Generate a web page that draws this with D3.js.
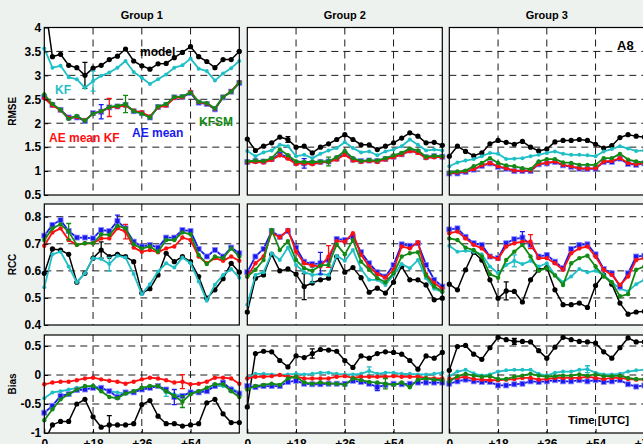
<!DOCTYPE html>
<html>
<head>
<meta charset="utf-8">
<script src="https://cdn.jsdelivr.net/npm/d3@7"></script>
<style>
  body { margin: 0; background: #eef2ef; }
  svg { display: block; font-family: "Liberation Sans", Arial, sans-serif; font-weight: bold; }
</style>
</head>
<body>
<div id="chart"></div>
<script>
// lead time [h]
const hours = [0, 3, 6, 9, 12, 15, 18, 21, 24, 27, 30, 33, 36, 39, 42, 45, 48, 51, 54, 57, 60, 63, 66, 69, 72];
const groups = ["Group 1", "Group 2", "Group 3"];
const metrics = ["RMSE", "RCC", "Bias"];
const seriesNames = ["model", "KF", "AEmean", "AEmeanKF", "KFSM"];

// ---- RMSE (one row per group)
const rmseModel = [
  [4.6, 3.39, 3.44, 3.21, 3.16, 3.0, 3.15, 3.21, 3.33, 3.4, 3.55, 3.3, 3.2, 3.13, 3.24, 3.25, 3.37, 3.48, 3.6, 3.39, 3.29, 3.16, 3.33, 3.33, 3.5],
  [1.67, 1.43, 1.52, 1.59, 1.71, 1.66, 1.5, 1.52, 1.38, 1.5, 1.57, 1.66, 1.76, 1.66, 1.55, 1.55, 1.45, 1.52, 1.59, 1.69, 1.8, 1.73, 1.59, 1.6, 1.54],
  [1.31, 1.52, 1.41, 1.32, 1.38, 1.57, 1.64, 1.6, 1.56, 1.62, 1.5, 1.42, 1.46, 1.61, 1.64, 1.64, 1.66, 1.64, 1.56, 1.48, 1.53, 1.7, 1.76, 1.73, 1.71]
];
const rmseKF = [
  [3.56, 3.16, 3.2, 2.96, 2.92, 2.74, 2.88, 2.99, 3.06, 3.16, 3.3, 3.07, 2.95, 2.82, 2.92, 3.02, 3.16, 3.21, 3.35, 3.14, 3.09, 2.89, 3.04, 3.15, 3.3],
  [1.42, 1.31, 1.39, 1.43, 1.55, 1.52, 1.31, 1.34, 1.27, 1.36, 1.43, 1.48, 1.6, 1.48, 1.39, 1.41, 1.33, 1.41, 1.45, 1.52, 1.66, 1.55, 1.43, 1.45, 1.43],
  [1.1, 1.18, 1.22, 1.25, 1.31, 1.38, 1.36, 1.25, 1.26, 1.27, 1.31, 1.34, 1.38, 1.41, 1.36, 1.34, 1.34, 1.33, 1.31, 1.41, 1.46, 1.52, 1.47, 1.42, 1.43]
];
const rmseAEmean = [
  [2.55, 2.38, 2.28, 2.12, 2.12, 2.05, 2.21, 2.24, 2.33, 2.35, 2.38, 2.25, 2.21, 2.12, 2.34, 2.38, 2.54, 2.55, 2.63, 2.43, 2.4, 2.29, 2.54, 2.66, 2.84],
  [1.19, 1.21, 1.2, 1.25, 1.35, 1.29, 1.17, 1.16, 1.17, 1.19, 1.2, 1.26, 1.36, 1.24, 1.21, 1.22, 1.21, 1.25, 1.3, 1.35, 1.43, 1.4, 1.29, 1.31, 1.3],
  [0.95, 0.95, 0.98, 1.03, 1.11, 1.16, 1.09, 1.05, 1.0, 1.0, 1.0, 1.14, 1.16, 1.19, 1.12, 1.09, 1.05, 1.04, 1.05, 1.19, 1.19, 1.26, 1.15, 1.13, 1.16]
];
const rmseAEmeanKF = [
  [2.52, 2.37, 2.27, 2.11, 2.13, 2.06, 2.2, 2.25, 2.33, 2.34, 2.37, 2.26, 2.23, 2.14, 2.33, 2.37, 2.53, 2.54, 2.66, 2.44, 2.41, 2.3, 2.55, 2.67, 2.86],
  [1.18, 1.19, 1.18, 1.23, 1.33, 1.26, 1.15, 1.16, 1.14, 1.18, 1.19, 1.24, 1.34, 1.22, 1.19, 1.21, 1.19, 1.24, 1.29, 1.34, 1.42, 1.38, 1.27, 1.29, 1.29],
  [0.96, 0.97, 0.99, 1.04, 1.12, 1.17, 1.1, 1.06, 1.01, 1.01, 1.01, 1.15, 1.17, 1.2, 1.13, 1.1, 1.06, 1.05, 1.06, 1.2, 1.21, 1.27, 1.17, 1.14, 1.17]
];
const rmseKFSM = [
  [2.6, 2.4, 2.28, 2.09, 2.15, 2.05, 2.2, 2.25, 2.34, 2.36, 2.4, 2.25, 2.2, 2.12, 2.35, 2.4, 2.55, 2.56, 2.64, 2.45, 2.42, 2.31, 2.55, 2.66, 2.85],
  [1.2, 1.22, 1.21, 1.27, 1.45, 1.33, 1.2, 1.19, 1.19, 1.2, 1.2, 1.29, 1.42, 1.27, 1.21, 1.23, 1.22, 1.27, 1.33, 1.38, 1.47, 1.43, 1.3, 1.32, 1.31],
  [0.97, 0.99, 1.01, 1.1, 1.17, 1.27, 1.17, 1.12, 1.1, 1.06, 1.04, 1.2, 1.25, 1.25, 1.18, 1.17, 1.13, 1.13, 1.13, 1.27, 1.27, 1.36, 1.24, 1.2, 1.18]
];

// ---- RCC
const rccModel = [
  [0.591, 0.681, 0.677, 0.661, 0.558, 0.591, 0.647, 0.677, 0.653, 0.661, 0.653, 0.634, 0.518, 0.534, 0.585, 0.665, 0.634, 0.653, 0.634, 0.579, 0.499, 0.53, 0.571, 0.628, 0.595],
  [0.448, 0.573, 0.585, 0.661, 0.6, 0.607, 0.588, 0.542, 0.555, 0.567, 0.573, 0.653, 0.595, 0.612, 0.575, 0.521, 0.536, 0.518, 0.558, 0.616, 0.567, 0.567, 0.548, 0.493, 0.499],
  [0.551, 0.53, 0.604, 0.669, 0.64, 0.567, 0.499, 0.526, 0.524, 0.485, 0.567, 0.604, 0.612, 0.53, 0.475, 0.475, 0.481, 0.465, 0.546, 0.585, 0.551, 0.481, 0.44, 0.448, 0.45]
];
const rccKF = [
  [0.539, 0.661, 0.671, 0.616, 0.558, 0.591, 0.647, 0.644, 0.625, 0.656, 0.649, 0.588, 0.514, 0.551, 0.598, 0.628, 0.612, 0.649, 0.628, 0.561, 0.49, 0.549, 0.585, 0.607, 0.575],
  [0.475, 0.585, 0.595, 0.665, 0.64, 0.686, 0.622, 0.595, 0.585, 0.588, 0.585, 0.656, 0.637, 0.677, 0.607, 0.567, 0.567, 0.548, 0.585, 0.625, 0.61, 0.64, 0.573, 0.534, 0.521],
  [0.693, 0.671, 0.674, 0.671, 0.661, 0.616, 0.591, 0.622, 0.637, 0.625, 0.637, 0.616, 0.628, 0.585, 0.558, 0.579, 0.607, 0.595, 0.6, 0.585, 0.558, 0.534, 0.524, 0.551, 0.567]
];
const rccAEmean = [
  [0.73, 0.77, 0.788, 0.747, 0.723, 0.723, 0.72, 0.751, 0.747, 0.784, 0.757, 0.708, 0.69, 0.696, 0.686, 0.723, 0.723, 0.751, 0.747, 0.681, 0.653, 0.677, 0.653, 0.686, 0.665],
  [0.595, 0.653, 0.681, 0.747, 0.726, 0.747, 0.686, 0.634, 0.625, 0.628, 0.64, 0.718, 0.714, 0.726, 0.669, 0.628, 0.595, 0.579, 0.622, 0.698, 0.693, 0.702, 0.622, 0.567, 0.542],
  [0.753, 0.757, 0.726, 0.702, 0.696, 0.653, 0.647, 0.702, 0.717, 0.723, 0.696, 0.653, 0.659, 0.634, 0.61, 0.681, 0.696, 0.698, 0.661, 0.607, 0.591, 0.542, 0.591, 0.653, 0.656]
];
const rccAEmeanKF = [
  [0.693, 0.742, 0.757, 0.714, 0.696, 0.702, 0.702, 0.72, 0.72, 0.757, 0.745, 0.686, 0.671, 0.677, 0.669, 0.683, 0.69, 0.723, 0.714, 0.653, 0.628, 0.647, 0.637, 0.653, 0.637],
  [0.579, 0.628, 0.653, 0.742, 0.723, 0.751, 0.671, 0.628, 0.62, 0.616, 0.653, 0.71, 0.708, 0.739, 0.659, 0.616, 0.588, 0.575, 0.604, 0.69, 0.683, 0.706, 0.588, 0.555, 0.534],
  [0.739, 0.745, 0.72, 0.696, 0.683, 0.653, 0.644, 0.69, 0.702, 0.708, 0.708, 0.647, 0.647, 0.628, 0.604, 0.665, 0.683, 0.69, 0.653, 0.604, 0.585, 0.548, 0.579, 0.64, 0.647]
];
const rccKFSM = [
  [0.714, 0.757, 0.772, 0.745, 0.696, 0.702, 0.702, 0.735, 0.733, 0.767, 0.757, 0.698, 0.683, 0.69, 0.671, 0.714, 0.714, 0.742, 0.735, 0.659, 0.625, 0.653, 0.647, 0.683, 0.653],
  [0.579, 0.604, 0.64, 0.751, 0.677, 0.71, 0.64, 0.61, 0.6, 0.62, 0.622, 0.698, 0.661, 0.714, 0.634, 0.604, 0.573, 0.558, 0.591, 0.653, 0.665, 0.669, 0.583, 0.542, 0.524],
  [0.72, 0.714, 0.686, 0.677, 0.653, 0.588, 0.575, 0.64, 0.671, 0.696, 0.653, 0.6, 0.61, 0.583, 0.548, 0.628, 0.647, 0.656, 0.616, 0.579, 0.558, 0.506, 0.514, 0.604, 0.616]
];

// ---- Bias
const biasModel = [
  [-1.15, -0.86, -0.8, -0.8, -0.5, -0.42, -0.72, -0.9, -0.86, -0.86, -0.86, -0.84, -0.51, -0.44, -0.71, -0.84, -0.84, -0.88, -0.86, -0.84, -0.48, -0.42, -0.67, -0.82, -0.82],
  [-0.55, 0.37, 0.41, 0.4, 0.25, 0.14, 0.33, 0.3, 0.37, 0.44, 0.43, 0.41, 0.25, 0.13, 0.33, 0.29, 0.37, 0.4, 0.39, 0.36, 0.25, 0.1, 0.33, 0.29, 0.39],
  [0.08, 0.49, 0.51, 0.36, 0.27, 0.47, 0.65, 0.61, 0.58, 0.58, 0.57, 0.42, 0.29, 0.48, 0.65, 0.61, 0.58, 0.57, 0.55, 0.4, 0.29, 0.47, 0.64, 0.57, 0.57]
];
const biasKF = [
  [-0.4, -0.3, -0.28, -0.25, -0.22, -0.21, -0.19, -0.23, -0.28, -0.3, -0.32, -0.29, -0.25, -0.22, -0.19, -0.3, -0.33, -0.36, -0.3, -0.28, -0.25, -0.19, -0.19, -0.23, -0.3],
  [-0.05, 0.02, 0.02, 0.01, 0.0, 0.01, 0.02, 0.01, 0.02, 0.04, 0.04, 0.02, 0.01, 0.01, 0.02, 0.07, 0.02, 0.04, 0.04, 0.02, 0.02, 0.01, 0.01, 0.02, 0.04],
  [-0.02, 0.06, 0.09, 0.03, -0.01, 0.01, 0.06, 0.08, 0.09, 0.09, 0.09, 0.02, -0.01, 0.04, 0.06, 0.06, 0.09, 0.1, 0.04, 0.01, 0.01, 0.02, 0.06, 0.08, 0.09]
];
const biasAEmean = [
  [-0.65, -0.53, -0.36, -0.33, -0.26, -0.25, -0.22, -0.22, -0.28, -0.38, -0.3, -0.3, -0.25, -0.22, -0.19, -0.25, -0.38, -0.36, -0.3, -0.3, -0.28, -0.19, -0.13, -0.25, -0.32],
  [-0.19, -0.21, -0.19, -0.19, -0.19, -0.12, -0.1, -0.15, -0.16, -0.16, -0.15, -0.15, -0.15, -0.1, -0.12, -0.15, -0.21, -0.17, -0.15, -0.16, -0.15, -0.13, -0.13, -0.13, -0.13],
  [-0.15, -0.11, -0.08, -0.11, -0.12, -0.12, -0.18, -0.18, -0.16, -0.15, -0.11, -0.12, -0.11, -0.09, -0.11, -0.11, -0.09, -0.11, -0.09, -0.12, -0.11, -0.09, -0.16, -0.2, -0.18]
];
const biasAEmeanKF = [
  [-0.16, -0.13, -0.115, -0.115, -0.09, -0.06, -0.046, -0.075, -0.1, -0.115, -0.15, -0.115, -0.075, -0.046, -0.06, -0.09, -0.13, -0.115, -0.16, -0.15, -0.115, -0.046, -0.046, -0.06, -0.15],
  [-0.06, -0.03, -0.03, -0.02, 0.0, -0.03, -0.03, -0.06, -0.06, -0.06, -0.06, -0.03, -0.02, -0.05, -0.03, -0.03, -0.03, -0.03, -0.02, -0.03, -0.03, -0.03, -0.05, -0.06, -0.06],
  [-0.07, -0.05, -0.03, -0.07, -0.08, -0.09, -0.09, -0.08, -0.07, -0.05, -0.05, -0.08, -0.07, -0.05, -0.05, -0.05, -0.05, -0.03, -0.05, -0.07, -0.05, -0.05, -0.07, -0.08, -0.08]
];
const biasKFSM = [
  [-0.78, -0.59, -0.42, -0.33, -0.25, -0.19, -0.19, -0.28, -0.38, -0.4, -0.32, -0.28, -0.22, -0.19, -0.19, -0.28, -0.36, -0.46, -0.33, -0.28, -0.22, -0.16, -0.16, -0.28, -0.38],
  [-0.25, -0.19, -0.17, -0.15, -0.17, -0.06, -0.03, -0.13, -0.15, -0.13, -0.15, -0.15, -0.17, -0.06, -0.09, -0.12, -0.13, -0.15, -0.17, -0.13, -0.21, -0.08, -0.06, -0.08, -0.09],
  [-0.11, -0.02, 0.02, -0.01, -0.03, -0.02, -0.07, -0.07, -0.03, -0.01, 0.02, -0.01, -0.03, -0.02, -0.01, -0.01, 0.01, -0.01, 0.01, -0.02, -0.02, -0.01, -0.05, -0.07, -0.07]
];

// error bars: [metric, group, series, hour, half length]
const errorBars = [
  [0, 0, "model", 15, 0.27], [0, 0, "KF", 18, 0.21], [0, 0, "AEmean", 21, 0.15], [0, 0, "AEmeanKF", 24, 0.19], [0, 0, "KFSM", 30, 0.18],
  [0, 1, "model", 15, 0.06], [0, 1, "AEmean", 21, 0.1], [0, 1, "KFSM", 30, 0.09],
  [1, 0, "model", 21, 0.03], [1, 0, "KF", 24, 0.025], [1, 0, "AEmean", 27, 0.022], [1, 0, "AEmeanKF", 30, 0.027], [1, 0, "KFSM", 9, 0.03],
  [1, 1, "model", 21, 0.048], [1, 1, "KF", 24, 0.028], [1, 1, "AEmean", 27, 0.04], [1, 1, "AEmeanKF", 30, 0.04],
  [1, 2, "model", 21, 0.033], [1, 2, "KF", 24, 0.022], [1, 2, "AEmean", 27, 0.022], [1, 2, "AEmeanKF", 30, 0.026],
  [2, 0, "model", 24, 0.16], [2, 0, "KF", 45, 0.07], [2, 0, "AEmean", 48, 0.13], [2, 0, "AEmeanKF", 51, 0.12], [2, 0, "KFSM", 51, 0.1],
  [2, 1, "model", 24, 0.08], [2, 1, "KF", 45, 0.07], [2, 1, "AEmean", 48, 0.06], [2, 1, "KFSM", 51, 0.09],
  [2, 2, "model", 24, 0.05], [2, 2, "KF", 51, 0.06]
];

const yDomains = [[0.5, 4], [0.4, 0.847], [-1, 0.69]];
const yTicks = [[0.5, 1, 1.5, 2, 2.5, 3, 3.5, 4], [0.4, 0.5, 0.6, 0.7, 0.8], [-1, -0.5, 0, 0.5]];
const xTicks = [0, 18, 36, 54, 72];
const xTickLabels = ["0", "+18", "+36", "+54", "+72"];

// lookup table by metric -> series -> group
const table = [
  { model: rmseModel, KF: rmseKF, AEmean: rmseAEmean, AEmeanKF: rmseAEmeanKF, KFSM: rmseKFSM },
  { model: rccModel, KF: rccKF, AEmean: rccAEmean, AEmeanKF: rccAEmeanKF, KFSM: rccKFSM },
  { model: biasModel, KF: biasKF, AEmean: biasAEmean, AEmeanKF: biasAEmeanKF, KFSM: biasKFSM }
];

const style = {
  model:    { color: "#000000", r: 2.6, w: 1.5 },
  KF:       { color: "#1fbfc6", r: 2.0, w: 1.8 },
  AEmean:   { color: "#1a1aee", r: 2.5, w: 1.8, square: true },
  AEmeanKF: { color: "#ff1010", r: 2.2, w: 1.8 },
  KFSM:     { color: "#138a13", r: 2.2, w: 1.8 }
};

// layout
const W = 643, H = 444;
const panelLeft = [44.3, 247.3, 449.3], panelWidth = 195;
const rows = [{ top: 27.5, bottom: 195 }, { top: 204, bottom: 325 }, { top: 335, bottom: 433 }];

const svg = d3.select("#chart").append("svg").attr("width", W).attr("height", H);
svg.append("rect").attr("width", W).attr("height", H).attr("fill", "#eef2ef");

const xs = panelLeft.map(l => d3.scaleLinear().domain([0, 72]).range([l, l + panelWidth]));
const ys = rows.map((r, i) => d3.scaleLinear().domain(yDomains[i]).range([r.bottom, r.top]));

metrics.forEach((metric, m) => {
  const y = ys[m];
  const row = rows[m];
  groups.forEach((grp, g) => {
    const x = xs[g];
    const p = svg.append("g");

    p.append("rect")
      .attr("x", x(0)).attr("y", row.top)
      .attr("width", panelWidth).attr("height", row.bottom - row.top)
      .attr("fill", "#fff");

    // dashed grid
    p.selectAll(".gy").data(yTicks[m].filter(t => t > yDomains[m][0] && t < yDomains[m][1]))
      .enter().append("line")
      .attr("x1", x(0)).attr("x2", x(72))
      .attr("y1", d => y(d)).attr("y2", d => y(d))
      .attr("stroke", "#000").attr("stroke-width", 0.9).attr("stroke-dasharray", "7,5");
    p.selectAll(".gx").data([18, 36, 54])
      .enter().append("line")
      .attr("x1", d => x(d)).attr("x2", d => x(d))
      .attr("y1", row.top).attr("y2", row.bottom)
      .attr("stroke", "#000").attr("stroke-width", 0.9).attr("stroke-dasharray", "7,5");

    const clipId = "clip" + m + g;
    svg.append("clipPath").attr("id", clipId).append("rect")
      .attr("x", x(0) - 5).attr("y", row.top)
      .attr("width", panelWidth + 10).attr("height", row.bottom - row.top);
    const plot = svg.append("g").attr("clip-path", `url(#${clipId})`);

    const line = d3.line().x((d, i) => x(hours[i])).y(d => y(d));

    seriesNames.forEach(name => {
      const s = style[name];
      const vals = table[m][name][g];
      plot.append("path").datum(vals)
        .attr("d", line).attr("fill", "none")
        .attr("stroke", s.color).attr("stroke-width", s.w).attr("stroke-linejoin", "round");

      if (s.square) {
        plot.selectAll(null).data(vals).enter().append("rect")
          .attr("x", (d, i) => x(hours[i]) - s.r).attr("y", d => y(d) - s.r)
          .attr("width", s.r * 2).attr("height", s.r * 2)
          .attr("fill", s.color).attr("stroke", "#8a8aff").attr("stroke-width", 0.8);
      } else {
        plot.selectAll(null).data(vals).enter().append("circle")
          .attr("cx", (d, i) => x(hours[i])).attr("cy", d => y(d)).attr("r", s.r)
          .attr("fill", s.color);
      }

      errorBars.filter(e => e[0] === m && e[1] === g && e[2] === name).forEach(e => {
        const v = vals[hours.indexOf(e[3])];
        const cx = x(e[3]);
        const eb = plot.append("g").attr("stroke", s.color).attr("stroke-width", 1.3);
        eb.append("line").attr("x1", cx).attr("x2", cx).attr("y1", y(v - e[4])).attr("y2", y(v + e[4]));
        [v - e[4], v + e[4]].forEach(w => {
          eb.append("line").attr("x1", cx - 2.5).attr("x2", cx + 2.5).attr("y1", y(w)).attr("y2", y(w));
        });
      });
    });

    // frame
    svg.append("rect")
      .attr("x", x(0)).attr("y", row.top)
      .attr("width", panelWidth).attr("height", row.bottom - row.top)
      .attr("fill", "none").attr("stroke", "#000").attr("stroke-width", 1.2);

    if (g === 0) {
      svg.append("g")
        .attr("transform", `translate(${x(0)},0)`)
        .call(d3.axisLeft(y).tickValues(yTicks[m]).tickSize(-4).tickPadding(3).tickFormat(d => String(d)))
        .call(a => a.select(".domain").remove())
        .call(a => a.selectAll("text").attr("font-size", 12).attr("fill", "#000")
          .attr("font-family", "Liberation Sans, Arial, sans-serif").attr("font-weight", "bold"));
    }
    if (m === 2) {
      const tv = g === 2 ? xTicks : xTicks.slice(0, 4);
      svg.append("g")
        .attr("transform", `translate(0,${row.bottom})`)
        .call(d3.axisBottom(x).tickValues(tv).tickSize(-4).tickPadding(6)
          .tickFormat(d => xTickLabels[xTicks.indexOf(d)]))
        .call(a => a.select(".domain").remove())
        .call(a => a.selectAll("text").attr("font-size", 12).attr("fill", "#000")
          .attr("font-family", "Liberation Sans, Arial, sans-serif").attr("font-weight", "bold"));
    }
    if (m === 0) {
      svg.append("text").attr("x", x(36)).attr("y", 19)
        .attr("text-anchor", "middle").attr("font-size", 11).text(grp);
    }
  });

  // row label
  svg.append("text")
    .attr("transform", `translate(16,${(row.top + row.bottom) / 2}) rotate(-90)`)
    .attr("text-anchor", "middle").attr("font-size", 10).text(metric);
});

// in-panel annotations
const notes = [
  { t: "model", x: 140, y: 56, c: style.model.color },
  { t: "KF", x: 55, y: 94, c: style.KF.color },
  { t: "AE mean KF", x: 49, y: 142, c: style.AEmeanKF.color },
  { t: "AE mean", x: 132, y: 137, c: style.AEmean.color },
  { t: "KFSM", x: 199, y: 126, c: style.KFSM.color }
];
svg.selectAll(".note").data(notes).enter().append("text")
  .attr("x", d => d.x).attr("y", d => d.y).attr("fill", d => d.c)
  .attr("font-size", 12).text(d => d.t);

svg.append("text").attr("x", 617).attr("y", 50).attr("font-size", 13).text("A8");
svg.append("text").attr("x", 568).attr("y", 424).attr("font-size", 11.5).text("Time [UTC]");
</script>
</body>
</html>
